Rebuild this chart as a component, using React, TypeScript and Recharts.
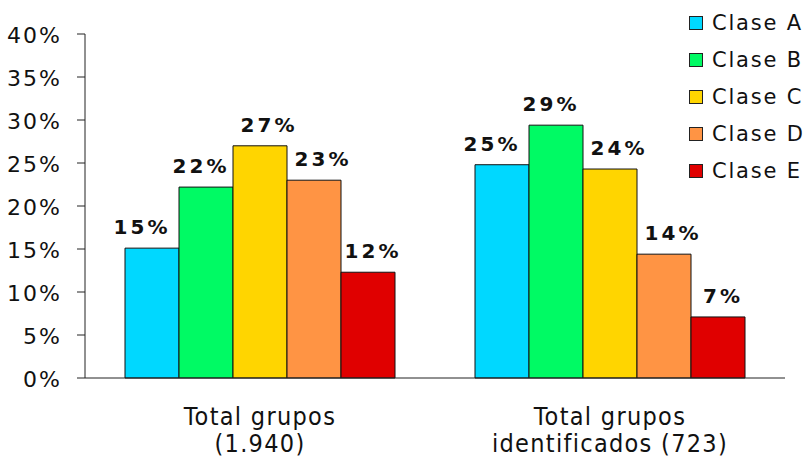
import React from "react";
import { BarChart, Bar, XAxis, YAxis, Legend, LabelList } from "recharts";

const CATEGORIES = ["Total grupos\n(1.940)", "Total grupos\nidentificados (723)"];
const CLASE_A = [15.1, 24.8];
const CLASE_B = [22.2, 29.4];
const CLASE_C = [27.0, 24.3];
const CLASE_D = [23.0, 14.4];
const CLASE_E = [12.3, 7.1];
const Y_TICKS = [0, 5, 10, 15, 20, 25, 30, 35, 40];

const SERIES = [
  { key: "A", name: "Clase A", values: CLASE_A, color: "#00D8FF", dx: -10 },
  { key: "B", name: "Clase B", values: CLASE_B, color: "#00FA64", dx: -5 },
  { key: "C", name: "Clase C", values: CLASE_C, color: "#FFD500", dx: 9 },
  { key: "D", name: "Clase D", values: CLASE_D, color: "#FF9444", dx: 9 },
  { key: "E", name: "Clase E", values: CLASE_E, color: "#E00000", dx: 5 },
];

const data = CATEGORIES.map((name, i) => {
  const row: any = { name };
  SERIES.forEach((s) => (row[s.key] = s.values[i]));
  return row;
});

const FONT = "'DejaVu Sans', Verdana, sans-serif";

const CategoryTick = (props: any) => {
  const { x, y, payload } = props;
  const lines = String(payload.value).split("\n");
  return (
    <text
      x={x}
      y={y}
      textAnchor="middle"
      fontFamily="'DejaVu Sans Condensed', 'DejaVu Sans', sans-serif"
      fontSize={25}
      letterSpacing={1.3}
      fill="#111"
    >
      {lines.map((l, i) => (
        <tspan key={i} x={x} dy={i === 0 ? 47 : 27}>
          {l}
        </tspan>
      ))}
    </text>
  );
};

const LegendContent = (props: any) => {
  const { payload } = props;
  return (
    <div style={{ width: 125, fontFamily: FONT, fontSize: 21, letterSpacing: 1.8, color: "#111" }}>
      {(payload || []).map((entry: any) => (
        <div key={entry.value} style={{ display: "flex", alignItems: "center", height: 37, whiteSpace: "nowrap" }}>
          <span
            style={{
              display: "inline-block",
              width: 12,
              height: 12,
              border: "1px solid #222",
              background: entry.color,
              marginRight: 9,
            }}
          />
          <span>{entry.value}</span>
        </div>
      ))}
    </div>
  );
};

export default function App() {
  return (
    <div style={{ position: "absolute", left: 0, top: 0, background: "#fff" }}>
      <style>{"body{margin:0}"}</style>
      <BarChart
        width={808}
        height={459}
        data={data}
        margin={{ top: 34, right: 23, bottom: 0, left: 0 }}
        barCategoryGap={40}
        barGap={0}
      >
        <XAxis
          xAxisId="edge"
          type="number"
          domain={[0, 2]}
          ticks={[0, 1, 2]}
          height={1}
          axisLine={false}
          tick={false}
          tickSize={8}
          tickLine={{ stroke: "#222" }}
        />
        <XAxis
          xAxisId="cat"
          dataKey="name"
          height={80}
          axisLine={{ stroke: "#222" }}
          tickLine={false}
          tickSize={0}
          tickMargin={0}
          tick={<CategoryTick />}
          interval={0}
        />
        <YAxis
          width={85}
          domain={[0, 40]}
          ticks={Y_TICKS}
          interval={0}
          tickFormatter={(v) => `${v}%`}
          axisLine={{ stroke: "#222" }}
          tickLine={{ stroke: "#222" }}
          tickSize={8}
          tickMargin={15}
          tick={{ fill: "#111", fontSize: 22, fontFamily: FONT, letterSpacing: 2, dy: 1 }}
        />
        <Legend
          layout="vertical"
          align="right"
          verticalAlign="top"
          content={<LegendContent />}
          wrapperStyle={{ position: "absolute", left: 689, top: 4, width: 0, height: 0, overflow: "visible" }}
        />
        {SERIES.map((s) => (
          <Bar
            key={s.key}
            xAxisId="cat"
            dataKey={s.key}
            name={s.name}
            fill={s.color}
            stroke="#111"
            strokeWidth={1}
            isAnimationActive={false}
          >
            <LabelList
              dataKey={s.key}
              position="top"
              offset={14}
              dx={s.dx}
              formatter={(v: any) => `${Math.round(Number(v))}%`}
              style={{ fontFamily: FONT, fontSize: 20, fontWeight: "bold", letterSpacing: 3, fill: "#111" }}
            />
          </Bar>
        ))}
      </BarChart>
    </div>
  );
}
